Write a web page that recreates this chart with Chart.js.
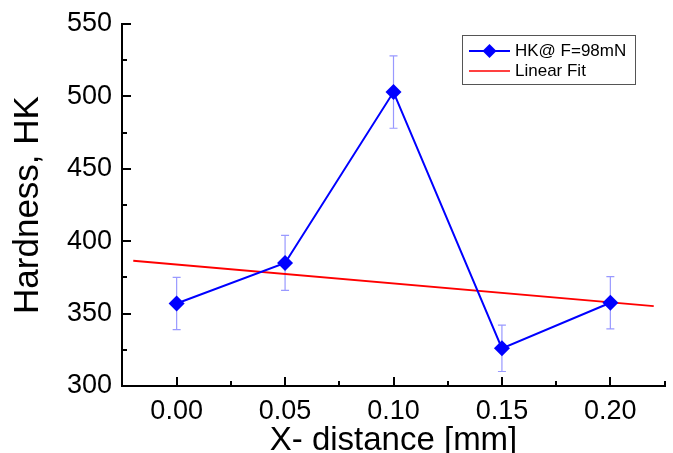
<!DOCTYPE html>
<html>
<head>
<meta charset="utf-8">
<script src="https://cdn.jsdelivr.net/npm/chart.js@4.4.0/dist/chart.umd.min.js"></script>
<style>
  body { margin: 0; background: #fff; }
  #wrap { width: 673px; height: 453px; }
</style>
</head>
<body>
<div id="wrap"><canvas id="chart"></canvas></div>
<script>
// values
const distance = [0.00, 0.05, 0.10, 0.15, 0.20];
const hardness = [357, 385, 503, 326, 357.5];
const hardnessErr = [18, 19, 25, 16, 18];
const fitX = [-0.02, 0.22];
const fitY = [386.5, 355.2];
const xTicks = [0.00, 0.05, 0.10, 0.15, 0.20];
const yTicks = [300, 350, 400, 450, 500, 550];

const FONT = "'Liberation Sans', Arial, sans-serif";

// error bars, drawn under the markers
const errorBars = {
  id: 'errorBars',
  beforeDatasetsDraw(chart) {
    const ctx = chart.ctx, xs = chart.scales.x, ys = chart.scales.y;
    ctx.save();
    ctx.strokeStyle = '#9999ff';
    ctx.lineWidth = 1.2;
    distance.forEach((d, i) => {
      const px = xs.getPixelForValue(d);
      const top = ys.getPixelForValue(hardness[i] + hardnessErr[i]);
      const bot = ys.getPixelForValue(hardness[i] - hardnessErr[i]);
      ctx.beginPath();
      ctx.moveTo(px, top); ctx.lineTo(px, bot);
      ctx.moveTo(px - 4, top); ctx.lineTo(px + 4, top);
      ctx.moveTo(px - 4, bot); ctx.lineTo(px + 4, bot);
      ctx.stroke();
    });
    ctx.restore();
  }
};

// inward ticks + legend box
const decor = {
  id: 'decor',
  afterDraw(chart) {
    const ctx = chart.ctx, xs = chart.scales.x, ys = chart.scales.y;
    const a = chart.chartArea;
    ctx.save();
    ctx.strokeStyle = '#000';
    ctx.lineWidth = 2;
    ctx.beginPath();
    for (let v = -0.025; v <= xs.max + 1e-9; v += 0.025) {
      const px = Math.round(xs.getPixelForValue(v));
      const major = Math.abs(Math.round(v / 0.05) * 0.05 - v) < 1e-6;
      ctx.moveTo(px, a.bottom); ctx.lineTo(px, a.bottom - (major ? 9 : 5));
    }
    for (let v = 300; v <= 550; v += 25) {
      const py = Math.round(ys.getPixelForValue(v));
      const major = v % 50 === 0;
      ctx.moveTo(a.left, py); ctx.lineTo(a.left + (major ? 9 : 5), py);
    }
    ctx.stroke();

    // legend
    ctx.strokeStyle = '#555';
    ctx.lineWidth = 1;
    ctx.strokeRect(462.5, 35.5, 173, 49);
    ctx.lineWidth = 2;
    ctx.strokeStyle = '#0000ff';
    ctx.beginPath(); ctx.moveTo(469, 51); ctx.lineTo(510, 51); ctx.stroke();
    ctx.fillStyle = '#0000ff';
    ctx.beginPath();
    ctx.moveTo(489.5, 44); ctx.lineTo(496.5, 51); ctx.lineTo(489.5, 58); ctx.lineTo(482.5, 51);
    ctx.closePath(); ctx.fill();
    ctx.strokeStyle = '#ff0000';
    ctx.lineWidth = 1.5;
    ctx.beginPath(); ctx.moveTo(469, 71); ctx.lineTo(510, 71); ctx.stroke();
    ctx.fillStyle = '#000';
    ctx.font = '17px ' + FONT;
    ctx.textBaseline = 'middle';
    ctx.fillText('HK@ F=98mN', 515, 51);
    ctx.fillText('Linear Fit', 515, 71);
    ctx.restore();
  }
};

new Chart(document.getElementById('chart'), {
  type: 'scatter',
  data: {
    datasets: [{
      label: 'HK@ F=98mN',
      data: distance.map((d, i) => ({ x: d, y: hardness[i] })),
      showLine: true,
      borderColor: '#0000ff',
      backgroundColor: '#0000ff',
      borderWidth: 2,
      pointStyle: 'rectRot',
      pointRadius: 8,
      pointBorderWidth: 0,
      order: 1
    }, {
      label: 'Linear Fit',
      data: fitX.map((d, i) => ({ x: d, y: fitY[i] })),
      showLine: true,
      borderColor: '#ff0000',
      borderWidth: 1.8,
      pointRadius: 0,
      order: 2
    }]
  },
  options: {
    responsive: true,
    maintainAspectRatio: false,
    animation: false,
    layout: { padding: { top: 24, right: 0, left: 0, bottom: 0 } },
    plugins: { legend: { display: false }, tooltip: { enabled: false } },
    scales: {
      x: {
        type: 'linear',
        min: -0.0252,
        max: 0.2252,
        afterFit(s) { s.height = 67; s.paddingRight = 0; s.paddingLeft = 0; },
        afterBuildTicks(s) { s.ticks = xTicks.map(v => ({ value: v })); },
        grid: { display: false, drawTicks: false },
        border: { display: true, color: '#000', width: 2 },
        ticks: {
          padding: 9,
          color: '#000',
          font: { family: FONT, size: 27 },
          callback: v => v.toFixed(2)
        },
        title: {
          display: true,
          text: 'X- distance [mm]',
          color: '#000',
          font: { family: FONT, size: 33, lineHeight: 1 },
          padding: { top: 0, bottom: -4 }
        }
      },
      y: {
        min: 300,
        max: 550,
        afterFit(s) { s.width = 122; s.paddingTop = 0; s.paddingBottom = 0; },
        afterBuildTicks(s) { s.ticks = yTicks.map(v => ({ value: v })); },
        grid: { display: false, drawTicks: false },
        border: { display: true, color: '#000', width: 2 },
        ticks: {
          padding: 10,
          color: '#000',
          font: { family: FONT, size: 27 }
        },
        title: {
          display: true,
          text: 'Hardness, HK',
          color: '#000',
          font: { family: FONT, size: 35, lineHeight: 1 },
          padding: { top: 11, bottom: 0 }
        }
      }
    }
  },
  plugins: [errorBars, decor]
});
</script>
</body>
</html>
